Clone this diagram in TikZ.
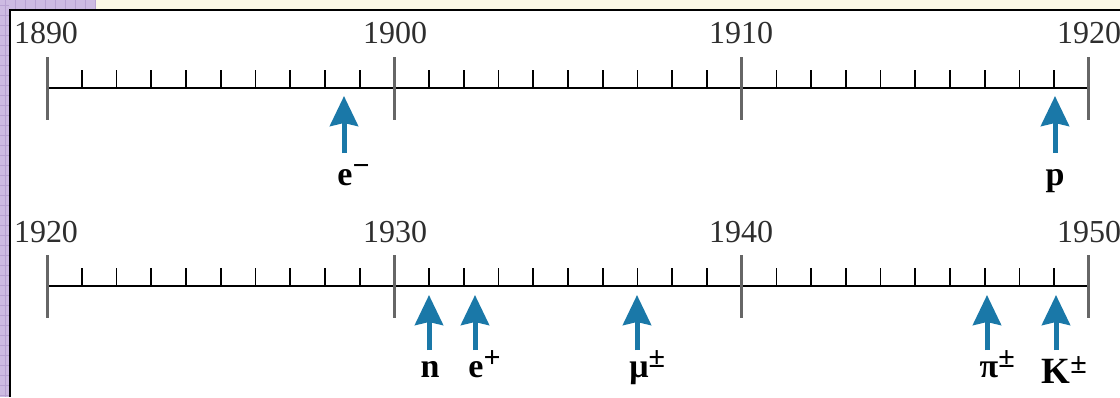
\documentclass[tikz,border=0pt]{standalone}
\usepackage{fontspec}
\setmainfont{Liberation Serif}
\usetikzlibrary{arrows.meta}
\definecolor{arrowblue}{HTML}{1A78A8}
\definecolor{yeargray}{HTML}{2E2E2E}
\definecolor{lilac}{HTML}{CDBBE2}
\definecolor{lilacline}{HTML}{B8A2D2}
\definecolor{cream}{HTML}{FBF8E6}
\newcommand\supmark[1]{\raisebox{10pt}{\fontsize{30}{30}\selectfont\bfseries #1}}
\begin{document}
\begin{tikzpicture}[x=1pt,y=-1pt,
  year/.style={font=\fontsize{32}{32}\selectfont, text=yeargray, anchor=base, inner sep=0pt},
  particle/.style={font=\fontsize{34}{34}\selectfont\bfseries, anchor=base, inner sep=0pt},
  axisline/.style={line width=2pt, black},
  majortick/.style={line width=3pt, black!60},
  minortick/.style={line width=1.8pt, black},
  discovery/.style={arrowblue, line width=5pt, -{Stealth[length=30pt,width=28pt,inset=3pt]}}
]
\useasboundingbox (0,0) rectangle (1120,397);
% background and frame
\fill[white] (0,0) rectangle (1120,397);
\fill[cream] (0,0) rectangle (1120,9);
\fill[lilac] (0,0) rectangle (9,397);
\fill[lilac] (0,0) rectangle (95,9);
\foreach \gy in {5,15,...,395} \draw[lilacline, line width=0.8pt] (0,\gy) -- (9,\gy);
\foreach \gx in {5,15,...,95} \draw[lilacline, line width=0.8pt] (\gx,0) -- (\gx,9);
\draw[lilacline, line width=0.8pt] (5,0) -- (5,397);
\draw[line width=2pt] (9.5,397) -- (9.5,9.5) -- (1120,9.5);
% two timelines
\foreach \A in {88,286} {
  \draw[axisline] (47,\A) -- (1089,\A);
  \foreach \i in {1,...,29} {
    \pgfmathtruncatemacro{\r}{mod(\i,10)}
    \ifnum\r>0
      \draw[minortick] ({47+34.733*\i},{\A-18}) -- ({47+34.733*\i},\A);
    \fi
  }
  \foreach \k in {0,...,3} \draw[majortick] ({47+347.33*\k},{\A-31}) -- ({47+347.33*\k},{\A+32});
}
% year labels
\node[year] (y1890) at (46,43) {1890};
\node[year] (y1900) at (395,43) {1900};
\node[year] (y1910) at (741,43) {1910};
\node[year] (y1920a) at (1089,43) {1920};
\node[year] (y1920b) at (46,242) {1920};
\node[year] (y1930) at (395,242) {1930};
\node[year] (y1940) at (741,242) {1940};
\node[year] (y1950) at (1089,242) {1950};
% particle labels
\node[particle] (eminus) at (345,185) {e\rlap{\supmark{−}}};
\node[particle] (proton) at (1055,185) {p};
\node[particle] (neutron) at (430,377) {n};
\node[particle] (eplus) at (476,377) {e\rlap{\supmark{+}}};
\node[particle] (muon) at (639,377) {μ\rlap{\supmark{±}}};
\node[particle] (pion) at (989,377) {π\rlap{\supmark{±}}};
\node[particle, font=\fontsize{37}{37}\selectfont\bfseries] (kaon) at (1056,383) {K\rlap{\supmark{±}}};
% arrows
\coordinate (eminus-tail) at (344,153); \coordinate (eminus-tip) at (344,96);
\coordinate (proton-tail) at (1055,153); \coordinate (proton-tip) at (1055,96);
\coordinate (neutron-tail) at (429,350); \coordinate (neutron-tip) at (429,295);
\coordinate (eplus-tail) at (475,350); \coordinate (eplus-tip) at (475,295);
\coordinate (muon-tail) at (637,350); \coordinate (muon-tip) at (637,295);
\coordinate (pion-tail) at (987,350); \coordinate (pion-tip) at (987,295);
\coordinate (kaon-tail) at (1056,350); \coordinate (kaon-tip) at (1056,295);
\foreach \p in {eminus,proton,neutron,eplus,muon,pion,kaon}
  \draw[discovery] (\p-tail) -- (\p-tip);
\end{tikzpicture}
\end{document}
